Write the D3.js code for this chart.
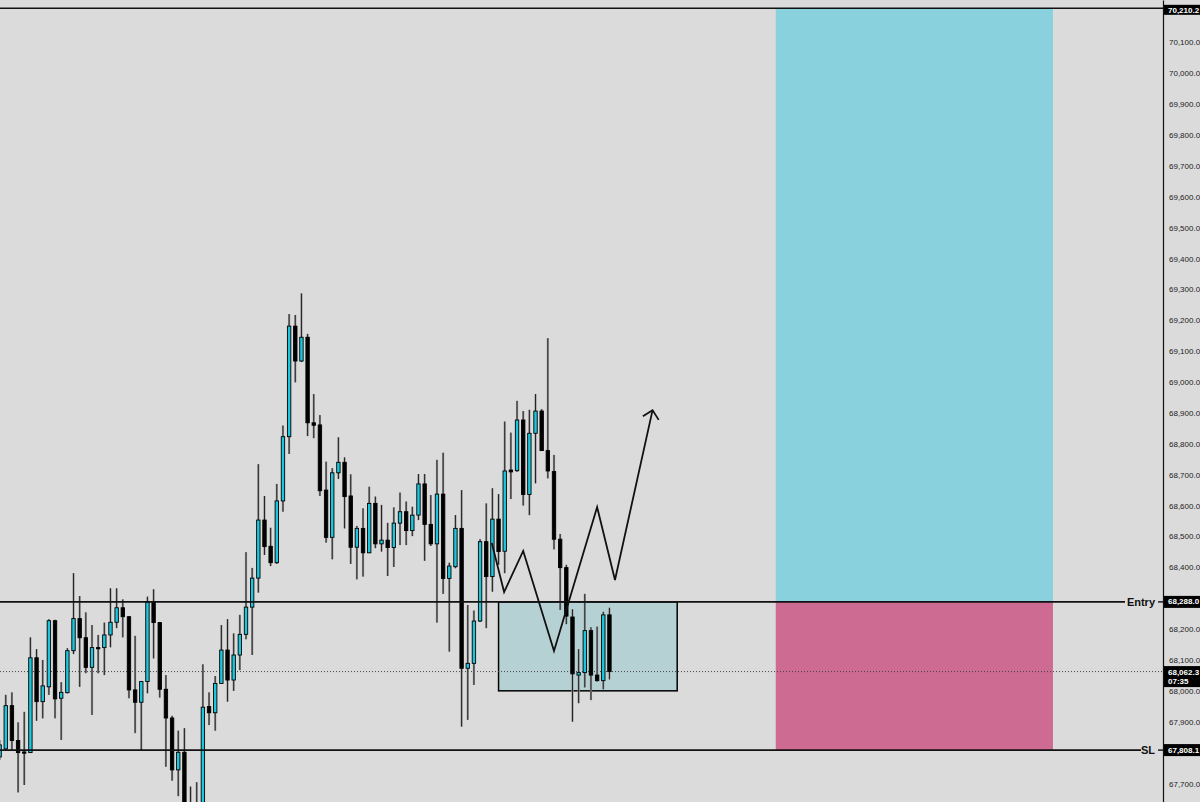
<!DOCTYPE html>
<html><head><meta charset="utf-8">
<script src="https://cdn.jsdelivr.net/npm/d3@7"></script>
<style>html,body{margin:0;padding:0;background:#dbdbdb;overflow:hidden}svg{display:block}</style>
</head><body><svg id="c" width="1200" height="802"></svg>
<script>
// ---- candle data (BTC-like price, one value per bar) ----
const opens  = [67786,67812,67952,67839,67802,67800,68107,67965,68013,68227,67976,67994,68130,68234,68172,68076,68140,68140,68181,68222,68269,68240,68003,67963,68030,68287,68221,68005,67912,67744,67801,67621,67566,67614,67949,67929,68024,68132,68035,68116,68183,68271,68365,68553,68468,68415,68615,68823,69181,69068,69145,68868,68861,68650,68497,68706,68740,68631,68465,68526,68447,68607,68476,68488,68464,68543,68580,68519,68569,68670,68539,68476,68637,68364,68402,68526,68073,68089,68226,68483,68370,68556,68452,68715,68713,68877,68636,68834,68906,68778,68710,68491,68399,68239,68051,68059,68195,68051,68033,68246];
const highs  = [67841,67987,67995,67898,67932,68173,68135,68100,68232,68230,68028,68138,68381,68307,68254,68213,68181,68221,68332,68332,68296,68242,68178,68032,68305,68329,68223,68051,67919,67871,67879,67690,67704,68086,67995,68048,68213,68232,68186,68246,68449,68398,68734,68631,68528,68670,68859,69220,69217,69287,69156,68961,68893,68742,68721,68821,68756,68701,68534,68591,68661,68629,68602,68544,68594,68642,68613,68596,68702,68702,68634,68748,68771,68415,68569,68650,68278,68260,68491,68607,68656,68637,68872,68836,68939,68906,68910,68961,68912,69142,68764,68508,68408,68264,68135,68314,68206,68208,68256,68269];
const lows   = [67776,67808,67808,67671,67695,67799,67903,67911,67987,67911,67841,67992,68119,68013,68057,67922,68057,68051,68141,68203,68173,67976,67863,67808,67992,68105,67978,67754,67709,67659,67549,67517,67533,67598,67889,67871,68022,67965,68000,68067,68167,68116,68318,68440,68404,68411,68580,68767,68999,69065,68825,68818,68631,68480,68426,68686,68526,68411,68361,68370,68446,68462,68451,68372,68401,68472,68472,68501,68553,68421,68469,68221,68314,68127,68397,67884,67906,68019,68223,68203,68321,68408,68381,68621,68709,68600,68569,68672,68777,68688,68458,68262,68216,67900,67960,68011,67970,68030,68005,68037];
const closes = [67825,67952,67839,67800,67799,68107,67965,68016,68227,67974,67995,68130,68234,68172,68076,68140,68137,68181,68222,68269,68240,68003,67963,68030,68287,68221,68005,67912,67744,67801,67621,67566,67614,67947,67929,68024,68132,68035,68116,68183,68271,68365,68553,68467,68415,68615,68823,69181,69068,69145,68868,68860,68648,68497,68706,68740,68629,68465,68526,68447,68607,68476,68488,68464,68543,68580,68519,68569,68670,68539,68476,68637,68364,68404,68526,68073,68089,68226,68483,68370,68556,68451,68712,68709,68877,68636,68834,68906,68778,68712,68491,68399,68242,68055,68059,68195,68051,68033,68246,68062.3];

// ---- axis ticks (those not covered by price tags) ----
const tickValues = [67700,67900,68000,68100,68200,68400,68500,68600,68700,68800,68900,69000,69100,69200,69300,69400,69500,69600,69700,69800,69900,70000,70100];

// ---- levels ----
const levelPrices = [70210.2, 68288.0, 67808.1];
const levelNames  = ["", "Entry", "SL"];
const lastPrice = 68062.3;
const lastTime = "07:35";

// ---- long position tool (bar index range) ----
const positionRange = [126, 171];
const positionPrices = [70210.2, 68288.0, 67808.1]; // target, entry, stop

// ---- demand zone ----
const zoneRange = [81, 110];
const zonePrices = [68288, 68000];

// ---- projected path ----
const pathIdx   = [79.9, 81.9, 85.0, 90.0, 97.0, 99.9, 106.0];
const pathPrice = [68479, 68320, 68453, 68129, 68595, 68359, 68909];

// ---- layout ----
const W = 1200, H = 802, axisX = 1163;
const svg = d3.select('#c');
const x = d3.scaleLinear().domain([0, 99]).range([-0.4, 609.44]);
const y = d3.scaleLinear().domain([67640, 70237.1]).range([H, 0]);

svg.append('rect').attr('width', W).attr('height', H).attr('fill', '#dbdbdb');

const plot = svg.append('g');
// position boxes
plot.append('rect')
  .attr('x', x(positionRange[0])).attr('width', x(positionRange[1]) - x(positionRange[0]))
  .attr('y', y(positionPrices[0])).attr('height', y(positionPrices[1]) - y(positionPrices[0]))
  .attr('fill', '#89d1dc');
plot.append('rect')
  .attr('x', x(positionRange[0])).attr('width', x(positionRange[1]) - x(positionRange[0]))
  .attr('y', y(positionPrices[1])).attr('height', y(positionPrices[2]) - y(positionPrices[1]))
  .attr('fill', '#cd6b92');

// zone box
plot.append('rect')
  .attr('x', x(zoneRange[0])).attr('width', x(zoneRange[1]) - x(zoneRange[0]))
  .attr('y', y(zonePrices[0])).attr('height', y(zonePrices[1]) - y(zonePrices[0]))
  .attr('fill', '#b6d1d4').attr('stroke', '#000').attr('stroke-width', 1.5);

// last price dotted line
plot.append('line').attr('x1', 0).attr('x2', axisX)
  .attr('y1', y(lastPrice)).attr('y2', y(lastPrice))
  .attr('stroke', '#444').attr('stroke-width', 1).attr('stroke-dasharray', '1,2');

// candles
const data = opens.map((o, i) => ({i, o, h: highs[i], l: lows[i], c: closes[i]}));
plot.selectAll('line.halo').data(data).join('line').attr('class', 'halo')
  .attr('x1', d => x(d.i)).attr('x2', d => x(d.i))
  .attr('y1', d => y(d.h)).attr('y2', d => y(d.l))
  .attr('stroke', '#9a9a9a').attr('stroke-width', 2.2);
plot.selectAll('line.wick').data(data).join('line').attr('class', 'wick')
  .attr('x1', d => x(d.i)).attr('x2', d => x(d.i))
  .attr('y1', d => y(d.h)).attr('y2', d => y(d.l))
  .attr('stroke', '#222').attr('stroke-width', 1);
plot.selectAll('rect.body').data(data).join('rect').attr('class', 'body')
  .attr('x', d => x(d.i) - 1.7).attr('width', 3.4)
  .attr('y', d => y(Math.max(d.o, d.c)))
  .attr('height', d => Math.max(1.2, Math.abs(y(d.o) - y(d.c))))
  .attr('fill', d => d.c >= d.o ? '#1cc6dc' : '#000')
  .attr('stroke', '#000').attr('stroke-width', 0.9);

// level lines
const lineEnds = [axisX, 1125, 1141];
levelPrices.forEach((p, k) => {
  plot.append('line').attr('x1', 0).attr('x2', lineEnds[k])
    .attr('y1', y(p)).attr('y2', y(p))
    .attr('stroke', '#111').attr('stroke-width', 1.6);
  if (levelNames[k]) {
    plot.append('text').attr('x', 1155).attr('y', y(p)).attr('dy', '0.35em')
      .attr('text-anchor', 'end').attr('font-family', 'Liberation Sans, Arial, sans-serif')
      .attr('font-size', 11).attr('font-weight', 'bold').attr('fill', '#111')
      .text(levelNames[k]);
    plot.append('line').attr('x1', 1158).attr('x2', axisX)
      .attr('y1', y(p)).attr('y2', y(p)).attr('stroke', '#111').attr('stroke-width', 1.4);
  }
});

// projected zigzag
const pts = pathIdx.map((v, k) => [x(v), y(pathPrice[k])]);
plot.append('path').attr('d', d3.line()(pts))
  .attr('fill', 'none').attr('stroke', '#111').attr('stroke-width', 1.8)
  .attr('stroke-linejoin', 'miter');
const tip = pts[pts.length - 1], prev = pts[pts.length - 2];
const ang = Math.atan2(prev[1] - tip[1], prev[0] - tip[0]);
const arm = 11.5, spread = 0.78;
const a1 = [tip[0] + arm * Math.cos(ang + spread), tip[1] + arm * Math.sin(ang + spread)];
const a2 = [tip[0] + arm * Math.cos(ang - spread), tip[1] + arm * Math.sin(ang - spread)];
plot.append('path').attr('d', d3.line()([a1, tip, a2]))
  .attr('fill', 'none').attr('stroke', '#111').attr('stroke-width', 1.8);

// right axis
const axis = d3.axisRight(y).tickValues(tickValues).tickSize(0).tickPadding(6)
  .tickFormat(d3.format(',.1f'));
const ag = svg.append('g').attr('transform', `translate(${axisX},0)`).call(axis);
ag.select('.domain').attr('stroke', '#111').attr('stroke-width', 1.2);
ag.selectAll('text').attr('font-family', 'Liberation Sans, Arial, sans-serif')
  .attr('font-size', 8).attr('fill', '#222');

// price labels (black tags)
function tag(cy, lines, h) {
  const g = svg.append('g');
  g.append('rect').attr('x', axisX + 1).attr('width', W - axisX).attr('y', cy - h / 2).attr('height', h).attr('fill', '#000');
  lines.forEach((t, k) => {
    g.append('text').attr('x', axisX + 5).attr('y', cy - h / 2 + 8.5 + k * 9)
      .attr('font-family', 'Liberation Sans, Arial, sans-serif').attr('font-size', 8)
      .attr('font-weight', 'bold').attr('fill', '#fff').text(t);
  });
}
const fmt = d3.format(',.1f');
tag(y(levelPrices[0]) + 1.5, [fmt(levelPrices[0])], 10);
tag(y(levelPrices[1]), [fmt(levelPrices[1])], 12);
tag(y(levelPrices[2]), [fmt(levelPrices[2])], 12);
tag(y(lastPrice) + 5, [fmt(lastPrice), lastTime], 21);
</script></body></html>
